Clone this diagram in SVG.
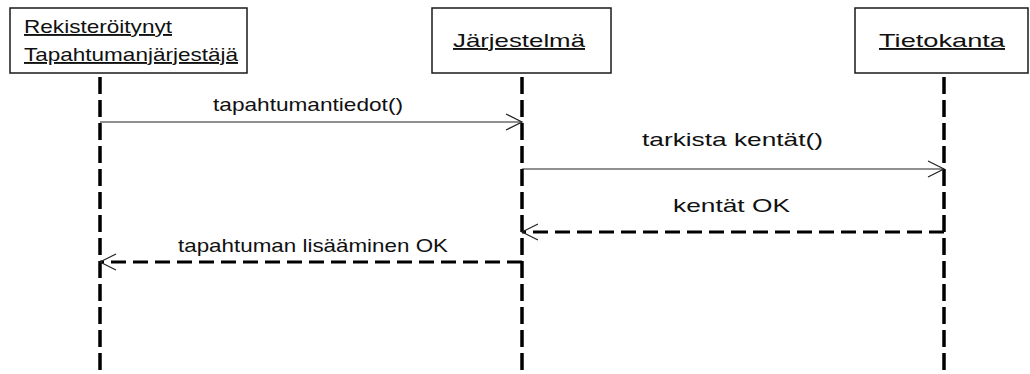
<svg xmlns="http://www.w3.org/2000/svg" width="1030" height="374" viewBox="0 0 1030 374">
  <style>
    .box { fill: #ffffff; stroke: #1a1a1a; stroke-width: 1.5; }
    .name { font-family: "Liberation Sans", Arial, sans-serif; font-size: 19px; fill: #111111; text-decoration: underline; }
    .label { font-family: "Liberation Sans", Arial, sans-serif; font-size: 19px; fill: #111111; }
    .lifeline { stroke: #000000; stroke-width: 3.5; stroke-dasharray: 17 6; fill: none; }
    .call { stroke: #222222; stroke-width: 1.2; fill: none; }
    .reply { stroke: #000000; stroke-width: 3; stroke-dasharray: 15 7; fill: none; }
  </style>
  <defs>
    <marker id="openArrow" viewBox="-17 -10 20 20" refX="0" refY="0" markerWidth="20" markerHeight="20" markerUnits="userSpaceOnUse" orient="auto">
      <path d="M -16 -8 L 0 0 L -16 8" fill="none" stroke="#222222" stroke-width="1.2" stroke-dasharray="none"/>
    </marker>
  </defs>

  <rect width="1030" height="374" fill="#ffffff"/>

  <!-- participants -->
  <g id="organizer">
    <line class="lifeline" x1="100" y1="77" x2="100" y2="374"/>
    <rect class="box" x="10" y="8" width="237" height="65"/>
    <text class="name" x="24" y="33" textLength="148" lengthAdjust="spacingAndGlyphs">Rekisteröitynyt</text>
    <text class="name" x="24" y="61" textLength="214" lengthAdjust="spacingAndGlyphs">Tapahtumanjärjestäjä</text>
  </g>

  <g id="system">
    <line class="lifeline" x1="522" y1="77" x2="522" y2="374"/>
    <rect class="box" x="432" y="8" width="179" height="65"/>
    <text class="name" x="453" y="47" textLength="132" lengthAdjust="spacingAndGlyphs">Järjestelmä</text>
  </g>

  <g id="database">
    <line class="lifeline" x1="944" y1="77" x2="944" y2="374"/>
    <rect class="box" x="855" y="8" width="173" height="65"/>
    <text class="name" x="879" y="47" textLength="126" lengthAdjust="spacingAndGlyphs">Tietokanta</text>
  </g>

  <!-- messages -->
  <g id="messages">
    <line class="call" x1="100" y1="122" x2="522" y2="122" marker-end="url(#openArrow)"/>
    <text class="label" x="213" y="111" textLength="190" lengthAdjust="spacingAndGlyphs">tapahtumantiedot()</text>

    <line class="call" x1="522" y1="169" x2="944" y2="169" marker-end="url(#openArrow)"/>
    <text class="label" x="642" y="146" textLength="181" lengthAdjust="spacingAndGlyphs">tarkista kentät()</text>

    <line class="reply" x1="944" y1="232" x2="522" y2="232" marker-end="url(#openArrow)"/>
    <text class="label" x="673" y="212" textLength="117" lengthAdjust="spacingAndGlyphs">kentät OK</text>

    <line class="reply" x1="522" y1="262" x2="100" y2="262" marker-end="url(#openArrow)"/>
    <text class="label" x="178" y="252" textLength="270" lengthAdjust="spacingAndGlyphs">tapahtuman lisääminen OK</text>
  </g>
</svg>
